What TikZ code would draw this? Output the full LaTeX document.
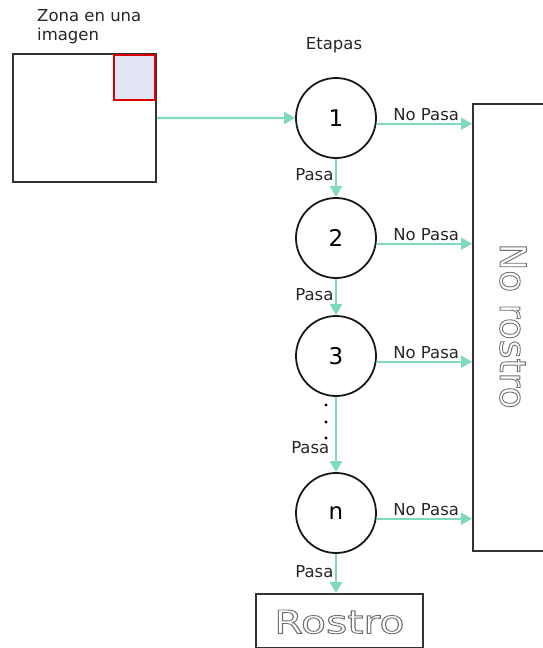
\documentclass[tikz,border=0pt]{standalone}
\usepackage{fontspec}
\setmainfont{DejaVu Sans}
\usetikzlibrary{arrows.meta,calc}
\definecolor{flow}{HTML}{7FD9BE}
\definecolor{frame}{HTML}{333333}
\definecolor{zone}{HTML}{E2E4F6}
\definecolor{hollow}{HTML}{707070}
% hollow (stroked only) glyphs
\newcommand{\outlined}[1]{\special{pdf:literal direct 1 Tr 0.9 w}#1\special{pdf:literal direct 0 Tr}}
\begin{document}
\begin{tikzpicture}[x=1pt,y=-1pt,
  stage/.style={draw=black!90,line width=1.8pt,circle,minimum size=80pt,inner sep=0pt,font=\fontsize{23}{23}\selectfont},
  flowarrow/.style={draw=flow,line width=2.2pt,-{Triangle[length=11pt,width=12pt]}},
  lbl/.style={font=\fontsize{16.5}{19}\selectfont,text=black!85,inner sep=1.5pt},
  boxline/.style={draw=frame,line width=1.8pt}]
\useasboundingbox (0,0) rectangle (543,648);

% image with the highlighted zone
\node[anchor=north west,align=left,lbl,inner sep=0pt] (title) at (37,9) {Zona en una\\imagen};
\node[boxline,anchor=north west,minimum width=143pt,minimum height=128pt,inner sep=0pt] (img) at (12,53) {};
\node[draw=red!85!black,fill=zone,line width=1.8pt,anchor=north east,minimum width=41pt,minimum height=45pt,inner sep=0pt] (zona) at ($(img.north east)+(-1,1)$) {};

\node[lbl] (etapas) at (334,45) {Etapas};

% stages
\node[stage] (s1) at (336,118) {1};
\node[stage] (s2) at (336,238) {2};
\node[stage] (s3) at (336,356) {3};
\node[stage] (sn) at (336,513) {n};

% rejection box
\node[boxline,anchor=north west,minimum width=71pt,minimum height=447pt,inner sep=0pt] (nr) at (472,103) {};
\node[rotate=-90,text=hollow,font=\fontsize{36}{36}\selectfont] (nrtext) at (513,326) {\outlined{No rostro}};

% accepted box
\node[boxline,anchor=north west,minimum width=167pt,minimum height=54pt,inner sep=0pt] (ro) at (255,593) {};
\node[text=hollow,font=\fontsize{32}{32}\selectfont,xscale=1.28] (rotext) at ($(ro.center)+(0,1)$) {\outlined{Rostro}};

% connectors
\draw[flowarrow] (img.east) -- (s1.west);
\foreach \s in {s1,s2,s3,sn}{
  \draw[flowarrow] (\s.-8) -- node[lbl,above,pos=0.52] {No Pasa} (\s.-8 -| nr.west);
}
\draw[flowarrow] (s1.south) -- node[lbl,left,pos=0.42] {Pasa} (s2.north);
\draw[flowarrow] (s2.south) -- node[lbl,left,pos=0.42] {Pasa} (s3.north);
\draw[flowarrow] (s3.south) -- (sn.north);
\node[lbl,anchor=east] (pasa3) at (331,448) {Pasa};
\foreach \y in {405,422,438} \fill (326,\y) circle (1.7pt);
\draw[flowarrow] (sn.south) -- node[lbl,left,pos=0.45] {Pasa} (ro.north -| sn.south);
\end{tikzpicture}
\end{document}
